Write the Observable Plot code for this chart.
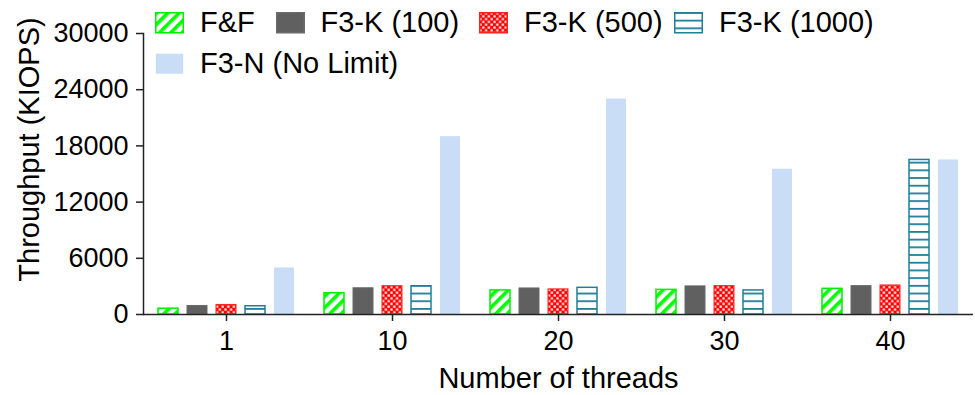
<!DOCTYPE html>
<html><head><meta charset="utf-8">
<script src="https://cdn.jsdelivr.net/npm/d3@7"></script>
<script src="https://cdn.jsdelivr.net/npm/@observablehq/plot@0.6"></script>
<style>
body{margin:0;background:#fff;}
#wrap{position:relative;width:975px;height:395px;font-family:"Liberation Sans",Arial,sans-serif;}
#legend{position:absolute;left:155px;top:2px;display:grid;grid-template-columns:120.5px 203.5px 195px auto;font-size:29px;color:#000;}
.item{display:flex;align-items:center;height:41px;white-space:nowrap;}
.item svg{margin-right:16px;flex:none;overflow:visible}
</style></head>
<body>
<svg width="0" height="0" style="position:absolute">
<defs>
<pattern id="pat-ff" patternUnits="userSpaceOnUse" width="8" height="8" patternTransform="rotate(45)">
<rect width="8" height="8" fill="#fff"/><rect width="3.6" height="8" fill="#00ff00"/></pattern>
<pattern id="pat-k500" patternUnits="userSpaceOnUse" width="5.6" height="5.6"><rect width="5.6" height="5.6" fill="#ff0000"/><rect x="0.4" y="0.4" width="2.2" height="2.2" fill="#fff"/><rect x="3.2" y="3.2" width="2.2" height="2.2" fill="#fff"/></pattern>
<pattern id="pat-k1000" patternUnits="userSpaceOnUse" width="8" height="7.7"><rect width="8" height="7.7" fill="#fff"/><rect y="0" width="8" height="1.8" fill="#1f7f97"/></pattern>
</defs></svg>
<div id="wrap"><div id="chart"></div><div id="legend"></div></div>
<script>
const threads = ["1", "10", "20", "30", "40"];
const series = ["F&F", "F3-K (100)", "F3-K (500)", "F3-K (1000)", "F3-N (No Limit)"];
const ffValues = [620, 2270, 2570, 2630, 2740];
const k100Values = [910, 2800, 2780, 3000, 3030];
const k500Values = [1020, 3020, 2680, 3030, 3100];
const k1000Values = [880, 3020, 2850, 2570, 16500];
const f3nValues = [4970, 18990, 23000, 15510, 16500];
const yTicks = [0, 6000, 12000, 18000, 24000, 30000];
const xLabel = "Number of threads";
const yLabel = "Throughput (KIOPS)";

const valueSets = [ffValues, k100Values, k500Values, k1000Values, f3nValues];
const styles = [
  {fill: "url(#pat-ff)", stroke: "#00ee00", strokeWidth: 1.5},
  {fill: "#606060", stroke: "#6a6a6a", strokeWidth: 1},
  {fill: "url(#pat-k500)", stroke: "#ff2020", strokeWidth: 1},
  {fill: "url(#pat-k1000)", stroke: "#1f7f97", strokeWidth: 1.5},
  {fill: "#c9ddf6", stroke: "none"}
];

const barMarks = series.map((s, j) =>
  Plot.barY(threads.map((t, i) => ({thread: t, series: s, value: valueSets[j][i]})),
    {fx: "thread", x: "series", y: "value", inset: 0, ...styles[j]})
);

const chart = Plot.plot({
  width: 975, height: 395,
  marginLeft: 143, marginRight: 2, marginTop: 33, marginBottom: 81,
  style: {fontFamily: '"Liberation Sans", Arial, sans-serif', fontSize: "27px", color: "#000", background: "transparent", overflow: "visible"},
  fx: {domain: threads, paddingInner: 0, paddingOuter: 0, label: null},
  x: {domain: series, paddingInner: 0.32, paddingOuter: 0.483, axis: null},
  y: {domain: [0, 30000], label: null},
  marks: [
    ...barMarks,
    Plot.ruleY([0], {stroke: "#222", strokeWidth: 1.5}),
    Plot.frame({anchor: "left", facetAnchor: "left", stroke: "#222", strokeWidth: 1.5}),
    Plot.axisY({ticks: yTicks, tickSize: 7, tickPadding: 8, tickFormat: "d", label: null, stroke: "#222", strokeWidth: 1.5}),
    Plot.axisFx({anchor: "bottom", tickSize: 7, tickPadding: 9, label: null, stroke: "#222", strokeWidth: 1.5}),
    Plot.text([xLabel], {fx: () => "20", frameAnchor: "bottom", textAnchor: "middle", lineAnchor: "top", dy: 52.5, fontSize: 29}),
    Plot.text([yLabel], {fx: () => "1", frameAnchor: "left", textAnchor: "middle", rotate: -90, lineAnchor: "top", dx: -125, dy: -24.5, fontSize: 29})
  ]
});
document.getElementById("chart").appendChild(chart);

const legend = document.getElementById("legend");
series.forEach((s, j) => {
  const st = styles[j];
  const item = document.createElement("div");
  item.className = "item";
  const sw = st.stroke === "none" ? "0" : "1.5";
  item.innerHTML = `<svg width="29" height="21.5"><rect x="0.75" y="0.75" width="27.5" height="20" fill="${st.fill}" stroke="${st.stroke}" stroke-width="${sw}"/></svg><span></span>`;
  item.querySelector("span").textContent = s;
  legend.appendChild(item);
});
</script>
</body></html>
